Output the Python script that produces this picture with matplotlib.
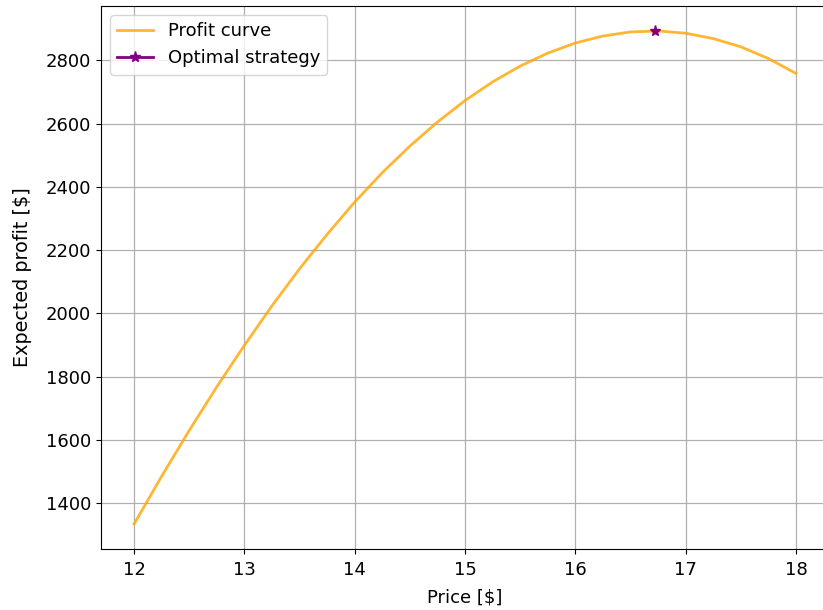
import matplotlib
matplotlib.use("Agg")
import matplotlib.pyplot as plt

# values
prices = [12.0, 12.25, 12.5, 12.75, 13.0, 13.25, 13.5, 13.75, 14.0,
          14.25, 14.5, 14.75, 15.0, 15.25, 15.5, 15.75, 16.0,
          16.25, 16.5, 16.75, 17.0, 17.25, 17.5, 17.75, 18.0]
profits = [1334, 1485, 1630, 1768, 1899, 2024, 2141, 2250, 2352,
           2445, 2529, 2605, 2673, 2732, 2782, 2823, 2855,
           2877, 2890, 2893, 2886, 2869, 2843, 2806, 2759]

best_price = [16.72]
best_profit = [2893]

plt.rcParams['font.size'] = 13

fig = plt.figure(figsize=(8.23, 6.1), dpi=100)
ax = fig.add_axes([101 / 823, 1 - 549 / 610, 728 / 823, 543 / 610])

ax.plot(prices, profits, color='orange', alpha=0.8, lw=2, label='Profit curve')
ax.plot(best_price, best_profit, '*-', color='purple', ms=8, lw=2,
        label='Optimal strategy')

ax.set_xlim(11.7, 18.3)
ax.set_ylim(1255, 2972)
ax.grid(True, lw=0.9)
ax.tick_params(axis='x', pad=5)
ax.set_xlabel('Price [$]', labelpad=7)
ax.set_ylabel('Expected profit [$]', fontsize=13.8, labelpad=10)
ax.legend(loc='upper left')

fig.savefig('out.png', dpi=100)
